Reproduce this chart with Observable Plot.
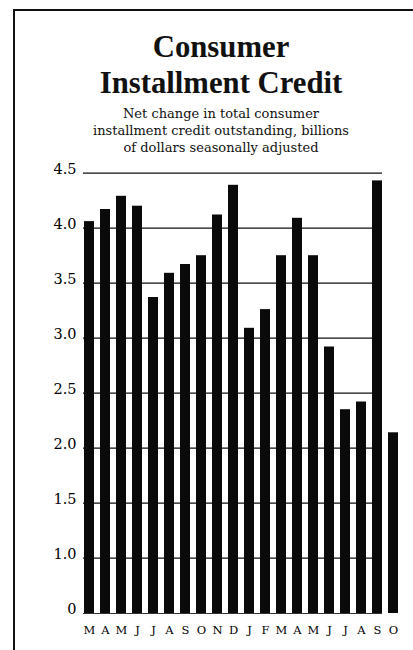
<!DOCTYPE html>
<html><head><meta charset="utf-8">
<script src="https://cdn.jsdelivr.net/npm/d3@7"></script>
<script src="https://cdn.jsdelivr.net/npm/@observablehq/plot@0.6"></script>
<style>
html,body{margin:0;padding:0;background:#fff;}
body{width:413px;height:650px;position:relative;overflow:hidden;}
#border{position:absolute;left:13px;top:9px;width:400px;height:641px;border-top:2px solid #111;border-left:2.5px solid #111;z-index:5;pointer-events:none;box-sizing:border-box}
.title{position:absolute;left:21px;width:400px;text-align:center;font-family:"Liberation Serif",serif;font-weight:bold;font-size:32px;line-height:32px;color:#111;transform:scaleX(0.96);transform-origin:50% 0;margin:0}
#t1{top:29.7px}
#t2{top:65.7px}
#subtitle{position:absolute;left:21px;width:400px;top:105px;text-align:center;font-family:"DejaVu Serif",serif;font-size:13px;line-height:17px;color:#111}
#chart{position:absolute;left:0;top:150px;}
</style></head><body>
<div id="border"></div>
<div class="title" id="t1">Consumer</div>
<div class="title" id="t2">Installment Credit</div>
<div id="subtitle">Net change in total consumer<br>installment credit outstanding, billions<br>of dollars seasonally adjusted</div>
<div id="chart"></div>
<script>
const months = ["M","A","M","J","J","A","S","O","N","D","J","F","M","A","M","J","J","A","S","O"];
const values = [4.06,4.17,4.29,4.20,3.37,3.59,3.67,3.75,4.12,4.39,3.09,3.26,3.75,4.09,3.75,2.92,2.35,2.42,4.43,2.14];
const yTicks = [0,1,1.5,2,2.5,3,3.5,4,4.5];
const gridValues = [1,1.5,2,2.5,3,3.5,4,4.5];

const data = values.map((v,i)=>({i, month: months[i], v}));
const fmt = d => d === 0 ? "0" : d.toFixed(1);

const chart = Plot.plot({
  width: 413, height: 500,
  marginLeft: 83, marginRight: 31, marginTop: 23, marginBottom: 37,
  style: {background: "transparent", fontFamily: "DejaVu Serif, serif", color: "#111"},
  x: {type: "band", domain: data.map(d => d.i), range: [78.6, 403.1], paddingInner: 0.38, paddingOuter: 0.19, label: null},
  y: {type: "linear", domain: [0, 1, 4.5], range: [463, 407.7, 22.7], label: null},
  marks: [
    Plot.ruleY(gridValues, {stroke: "#111", strokeWidth: 1.2}),
    Plot.ruleY([0], {stroke: "#333", strokeWidth: 1}),
    Plot.barY(data, {x: "i", y: "v", fill: "#0a0a0a"}),
    Plot.axisY({ticks: yTicks, tickFormat: fmt, tickSize: 0, tickPadding: 7, fontSize: 14.5, dy: -4, fill: "#000", label: null}),
    Plot.axisX({tickFormat: i => months[i], tickSize: 0, tickPadding: 12, fontSize: 11.5, fill: "#000", label: null})
  ]
});
document.getElementById("chart").appendChild(chart);
</script>
</body></html>
